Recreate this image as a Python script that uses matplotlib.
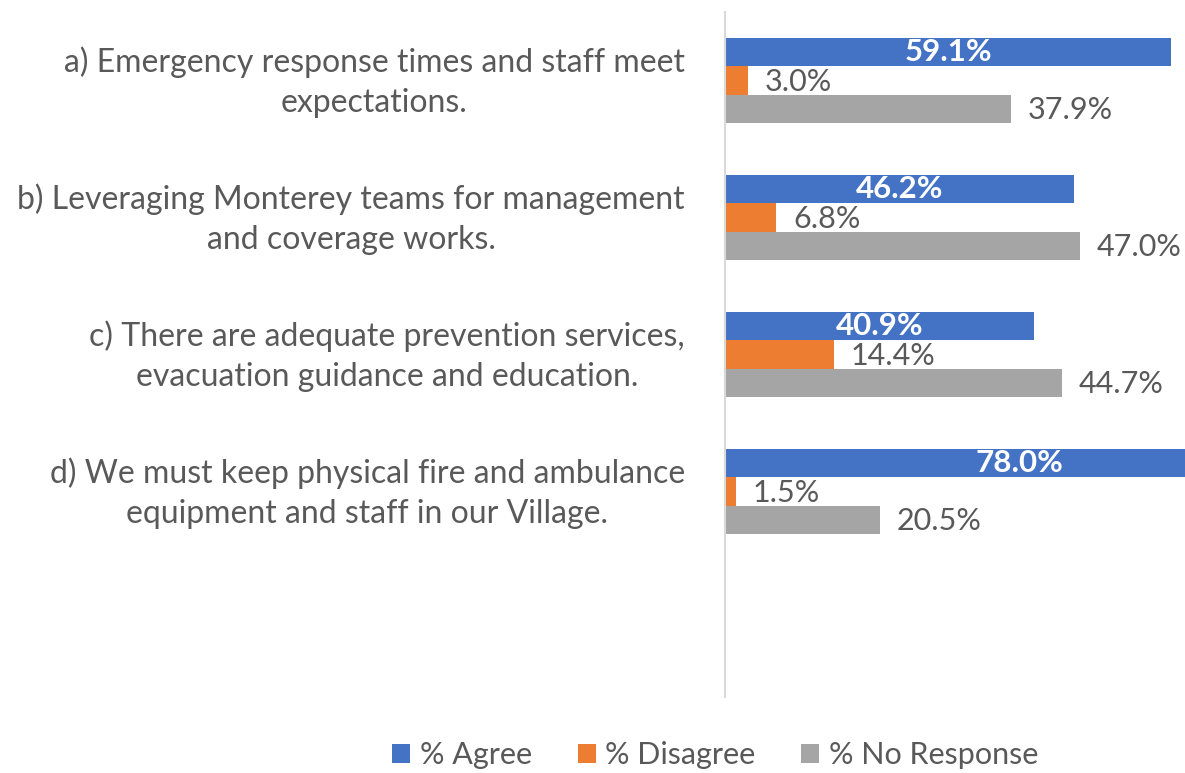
import matplotlib.pyplot as plt
import matplotlib.transforms as mtransforms
import numpy as np

plt.rcParams['font.family'] = ['Lato', 'DejaVu Sans']

questions = [
    'a) Emergency response times and staff meet\nexpectations.',
    'b) Leveraging Monterey teams for management\nand coverage works.',
    'c) There are adequate prevention services,\nevacuation guidance and education.',
    'd) We must keep physical fire and ambulance\nequipment and staff in our Village.',
]
agree = [59.1, 46.2, 40.9, 78.0]
disagree = [3.0, 6.8, 14.4, 1.5]
no_response = [37.9, 47.0, 44.7, 20.5]

series_names = ['% Agree', '% Disagree', '% No Response']
colors = ['#4472C4', '#ED7D31', '#A5A5A5']
txt_col = '#595959'

fig = plt.figure(figsize=(11.85, 7.73), dpi=100)
ax = fig.add_axes([725 / 1185, 1 - 697 / 773, 1 - 725 / 1185, 685 / 773])

y = np.arange(len(questions))
h = 0.208
vals = [agree, disagree, no_response]
for i, (v, c, name) in enumerate(zip(vals, colors, series_names)):
    bars = ax.barh(y + (i - 1) * h, v, height=h, color=c, label=name)
    for b, val in zip(bars, v):
        cy = b.get_y() + b.get_height() / 2
        if i == 0:
            ax.text(val / 2, cy, f'{val:.1f}%', ha='center', va='center',
                    color='white', fontsize=22.5, fontweight='bold')
        else:
            ax.annotate(f'{val:.1f}%', (val, cy), xytext=(12, -1),
                        textcoords='offset points', ha='left', va='center',
                        color=txt_col, fontsize=22)

ax.set_xlim(0, 60.95)
ax.set_ylim(4.5, -0.5)
ax.set_yticks([])
ax.set_xticks([])

# question labels, placed left of the axis line
lab_tr = mtransforms.blended_transform_factory(ax.transAxes, ax.transData) + \
    mtransforms.ScaledTranslation(-40 / 100, -2 / 100, fig.dpi_scale_trans)
for yi, q in zip(y, questions):
    ax.text(0, yi, q, transform=lab_tr, ha='right', va='center',
            multialignment='center', fontsize=23, color=txt_col,
            linespacing=1.42)

for s in ['top', 'right', 'bottom']:
    ax.spines[s].set_visible(False)
ax.spines['left'].set_color('#D9D9D9')
ax.spines['left'].set_linewidth(1.5)

fig.legend(loc='center', bbox_to_anchor=(715 / 1185, 1 - 755 / 773), ncol=3,
           frameon=False, fontsize=22, labelcolor=txt_col, handlelength=0.6,
           handleheight=0.6, handletextpad=0.3, columnspacing=1.5)

fig.savefig('out.png', dpi=100)
